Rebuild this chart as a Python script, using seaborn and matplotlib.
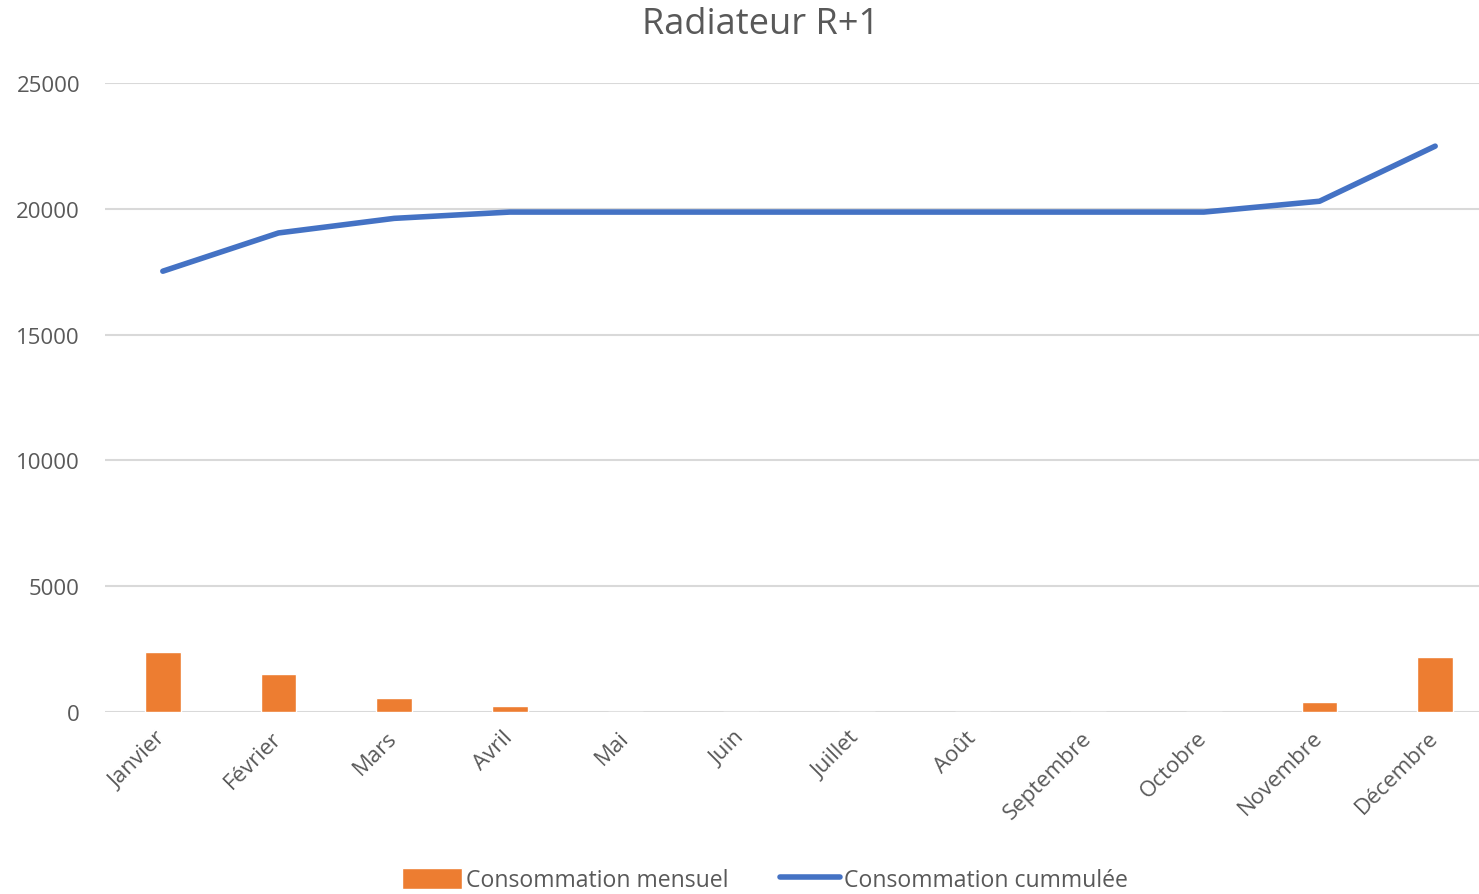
import numpy as np
import pandas as pd
import matplotlib
matplotlib.use("Agg")
import matplotlib.pyplot as plt
import seaborn as sns

mois = ['Janvier', 'Février', 'Mars', 'Avril', 'Mai', 'Juin', 'Juillet',
        'Août', 'Septembre', 'Octobre', 'Novembre', 'Décembre']
conso_mensuel = [2390, 1510, 560, 240, 0, 0, 0, 0, 0, 0, 400, 2200]
conso_cumul = [17520, 19040, 19620, 19870, 19870, 19870, 19870,
               19870, 19870, 19870, 20300, 22490]

sns.set_theme(style="white")
plt.rcParams['font.family'] = ['Open Sans', 'DejaVu Sans']
grey = '#595959'

df = pd.DataFrame({'mois': mois, 'mensuel': conso_mensuel, 'cumul': conso_cumul})

fig = plt.figure(figsize=(14.79, 8.95), dpi=100)
ax = fig.add_axes([105 / 1479, (895 - 713) / 895, (1493 - 105) / 1479, (713 - 84) / 895])

# barres mensuelles + courbe cumulée
sns.barplot(data=df, x='mois', y='mensuel', color='#ED7D31', width=0.31,
            saturation=1, ax=ax, label='Consommation mensuel', zorder=3)
sns.lineplot(x=np.arange(len(mois)), y=df['cumul'], color='#4472C4', linewidth=4,
             ax=ax, label='Consommation cummulée', zorder=4,
             solid_capstyle='round', solid_joinstyle='round')

ax.set_xlim(-0.5, 11.5)
ax.set_ylim(0, 25000)
ax.set_yticks(range(0, 25001, 5000))
ax.yaxis.grid(True, color='#d9d9d9', linewidth=1.5)
ax.set_axisbelow(True)
for s in ax.spines.values():
    s.set_visible(False)
ax.axhline(0, color='#d9d9d9', linewidth=1.8, zorder=2)
ax.set_xlabel('')
ax.set_ylabel('')
ax.tick_params(axis='y', labelsize=16, colors=grey, length=0, pad=18)
ax.tick_params(axis='x', labelsize=16, colors=grey, length=0, pad=16)
ax.set_xticks(range(len(mois)))
ax.set_xticklabels(mois, rotation=45, ha='right', va='center', rotation_mode='anchor')

fig.text(0.514, 1 - 25 / 895, 'Radiateur R+1', fontsize=26, color=grey,
         ha='center', va='center')

if ax.legend_:
    ax.legend_.remove()
h, l = ax.get_legend_handles_labels()
order = [l.index('Consommation mensuel'), l.index('Consommation cummulée')]
fig.legend([h[i] for i in order], [l[i] for i in order], loc='center',
           bbox_to_anchor=(765 / 1479, 1 - 881 / 895), ncol=2,
           frameon=False, fontsize=16.6, labelcolor=grey, handlelength=2.6,
           handleheight=1.0, handletextpad=0.2, columnspacing=2.2)

fig.savefig('out.png', dpi=100)
